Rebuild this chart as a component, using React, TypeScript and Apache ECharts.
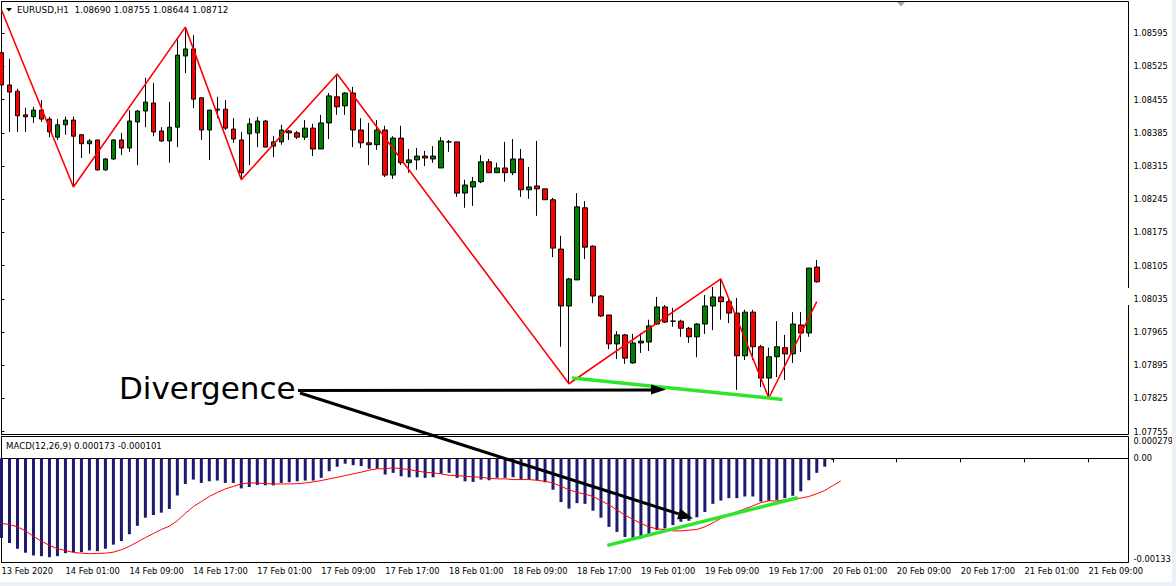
import React, { useEffect, useRef } from "react";
import * as echarts from "echarts";

// ---------- data ----------
const openP = [
  1.08554, 1.08486, 1.08473, 1.08423, 1.08419, 1.08433, 1.08414, 1.08376, 1.08402, 1.08412,
  1.08381, 1.08362, 1.0837, 1.08307, 1.0833, 1.0837, 1.08353, 1.08408, 1.08431, 1.08448,
  1.08389, 1.08368, 1.08397, 1.08547, 1.08562, 1.08459, 1.08391, 1.08435, 1.08435, 1.08393,
  1.0837, 1.08383, 1.08385, 1.0841, 1.08357, 1.08366, 1.08389, 1.08385, 1.08376, 1.08395,
  1.08351, 1.08406, 1.08461, 1.08442, 1.08469, 1.08391, 1.08364, 1.0836, 1.08391, 1.08296,
  1.08374, 1.08322, 1.08328, 1.08336, 1.0833, 1.08311, 1.08366, 1.08366, 1.08258, 1.08271,
  1.08282, 1.08324, 1.08301, 1.08311, 1.08301, 1.0833, 1.08265, 1.08273, 1.08267, 1.08244,
  1.0814, 1.0802, 1.08075, 1.08227, 1.08146, 1.08041, 1.08001, 1.0794, 1.07959, 1.079,
  1.07942, 1.07944, 1.07982, 1.08018, 1.07988, 1.07988, 1.07973, 1.07955, 1.07982, 1.0802,
  1.08039, 1.08029, 1.08005, 1.07915, 1.08007, 1.07934, 1.07868, 1.07913, 1.07932, 1.07919,
  1.0798, 1.07963, 1.08102,
];
const highP = [
  1.08585, 1.08541, 1.08478, 1.08438, 1.0844, 1.08454, 1.08419, 1.08414, 1.08419, 1.08419,
  1.08383, 1.08372, 1.0837, 1.08332, 1.08372, 1.08385, 1.08433, 1.08433, 1.08501, 1.0849,
  1.08397, 1.0845, 1.08587, 1.08608, 1.08591, 1.08459, 1.08433, 1.08461, 1.08454, 1.08416,
  1.08387, 1.08416, 1.08419, 1.08412, 1.08378, 1.08402, 1.08391, 1.08389, 1.08412, 1.08404,
  1.08423, 1.08469, 1.08509, 1.08471, 1.08482, 1.08416, 1.08406, 1.08412, 1.084, 1.08378,
  1.084, 1.08351, 1.08353, 1.08347, 1.08357, 1.08376, 1.0837, 1.08366, 1.08286, 1.08292,
  1.08338, 1.0833, 1.08322, 1.08366, 1.08372, 1.08351, 1.08313, 1.08368, 1.08267, 1.08248,
  1.08168, 1.08079, 1.08258, 1.08241, 1.08148, 1.08043, 1.08001, 1.07967, 1.07961, 1.07961,
  1.07963, 1.07991, 1.08039, 1.08022, 1.08016, 1.07991, 1.07976, 1.07984, 1.08043, 1.0806,
  1.08077, 1.08039, 1.08037, 1.08012, 1.08012, 1.07938, 1.07932, 1.07988, 1.07959, 1.08007,
  1.08007, 1.081, 1.08117,
];
const lowP = [
  1.08338, 1.08387, 1.08387, 1.08387, 1.08406, 1.08408, 1.08376, 1.0837, 1.08381, 1.08271,
  1.08332, 1.08341, 1.08305, 1.08305, 1.08328, 1.08338, 1.08345, 1.08317, 1.08397, 1.08378,
  1.08366, 1.08322, 1.08355, 1.08511, 1.08437, 1.0837, 1.08328, 1.08416, 1.08391, 1.08364,
  1.08286, 1.08317, 1.08355, 1.08355, 1.08334, 1.0836, 1.0837, 1.08372, 1.0837, 1.08336,
  1.08351, 1.08372, 1.08423, 1.08423, 1.08355, 1.08353, 1.08317, 1.08349, 1.08292, 1.08288,
  1.08317, 1.08301, 1.08307, 1.08315, 1.08322, 1.08311, 1.08345, 1.0825, 1.08227, 1.08231,
  1.08279, 1.08301, 1.08301, 1.08282, 1.08296, 1.0825, 1.08246, 1.0821, 1.08244, 1.08123,
  1.07934, 1.07856, 1.08075, 1.08119, 1.08026, 1.07997, 1.07929, 1.07908, 1.07898, 1.07898,
  1.07921, 1.07925, 1.0798, 1.07984, 1.07976, 1.07955, 1.07942, 1.07912, 1.07961, 1.07969,
  1.07991, 1.07984, 1.07843, 1.07906, 1.07906, 1.07849, 1.07826, 1.0787, 1.07864, 1.079,
  1.07923, 1.07955, 1.08069,
];
const closeP = [
  1.08486, 1.08471, 1.08421, 1.08419, 1.08433, 1.08414, 1.08387, 1.08402, 1.08412, 1.08378,
  1.08362, 1.08368, 1.08307, 1.0833, 1.0837, 1.08353, 1.0841, 1.08431, 1.0845, 1.08387,
  1.08368, 1.08397, 1.08549, 1.08562, 1.08456, 1.08391, 1.08433, 1.08433, 1.08395, 1.08372,
  1.08301, 1.08404, 1.0841, 1.08355, 1.08366, 1.08391, 1.08385, 1.08376, 1.08395, 1.08351,
  1.08406, 1.08463, 1.0844, 1.08469, 1.08391, 1.08364, 1.0836, 1.08391, 1.08296, 1.08374,
  1.08322, 1.08328, 1.08336, 1.08332, 1.08336, 1.08368, 1.08366, 1.08258, 1.08275, 1.08282,
  1.08324, 1.08301, 1.08311, 1.08301, 1.0833, 1.08265, 1.08271, 1.08267, 1.08244, 1.08142,
  1.0802, 1.08077, 1.08229, 1.08144, 1.08041, 1.07999, 1.0794, 1.07959, 1.0791, 1.07942,
  1.07946, 1.07978, 1.08018, 1.07986, 1.07988, 1.07973, 1.07955, 1.07982, 1.0802, 1.08039,
  1.08029, 1.08005, 1.07915, 1.08007, 1.07934, 1.07868, 1.07913, 1.07934, 1.07919, 1.07982,
  1.07963, 1.081, 1.08071,
];

const zigzagIdx = [0, 9, 23, 30, 42, 71, 90, 96, 102];
const zigzagPrice = [1.08644, 1.08271, 1.08608, 1.08286, 1.08509, 1.07856, 1.08077, 1.07826, 1.08029];

const macdHist = [
  -0.001017, -0.001081, -0.001154, -0.001205, -0.00124, -0.001249, -0.001262, -0.001249, -0.001211, -0.001198,
  -0.001198, -0.001176, -0.001185, -0.001154, -0.001102, -0.001056, -0.000969, -0.000862, -0.000758, -0.000724,
  -0.000694, -0.000646, -0.000474, -0.000327, -0.000271, -0.000314, -0.000293, -0.000284, -0.000314, -0.000314,
  -0.000384, -0.000366, -0.00034, -0.000345, -0.000345, -0.000314, -0.000306, -0.000293, -0.000284, -0.000284,
  -0.000249, -0.000164, -0.000107, -0.000068, -0.000087, -0.000099, -0.000133, -0.000133, -0.000207, -0.000185,
  -0.000229, -0.000242, -0.000242, -0.000249, -0.000242, -0.000198, -0.000185, -0.000249, -0.000293, -0.000301,
  -0.000271, -0.00028, -0.000249, -0.000249, -0.000242, -0.000271, -0.000271, -0.00028, -0.000306, -0.000401,
  -0.000559, -0.000642, -0.000572, -0.000581, -0.000668, -0.000758, -0.000875, -0.000939, -0.001004, -0.001017,
  -0.001025, -0.000982, -0.000917, -0.000895, -0.000853, -0.00081, -0.000797, -0.000753, -0.000685, -0.000581,
  -0.000539, -0.000508, -0.000508, -0.000487, -0.000487, -0.000552, -0.000543, -0.00053, -0.000508, -0.000478,
  -0.000422, -0.00028, -0.000185, -0.000107, -0.000022,
];
const macdSignal = [
  -0.000831, -0.000844, -0.000875, -0.000926, -0.000995, -0.001059, -0.001111, -0.001154, -0.001176, -0.001202,
  -0.001211, -0.001218, -0.001214, -0.001211, -0.001198, -0.001167, -0.001124, -0.001068, -0.001012, -0.00096,
  -0.000908, -0.000866, -0.000797, -0.000702, -0.000616, -0.000552, -0.000487, -0.000435, -0.000391, -0.000358,
  -0.000327, -0.000314, -0.000314, -0.000323, -0.000327, -0.000327, -0.000327, -0.000323, -0.000314, -0.000301,
  -0.000284, -0.000262, -0.000242, -0.00022, -0.000198, -0.000177, -0.000151, -0.000133, -0.000133, -0.00012,
  -0.000133, -0.000142, -0.000164, -0.000177, -0.000185, -0.000198, -0.000216, -0.00022, -0.000229, -0.000236,
  -0.000242, -0.000255, -0.000262, -0.000262, -0.000271, -0.000271, -0.000271, -0.00028, -0.000293, -0.000314,
  -0.000358, -0.000401, -0.000435, -0.000456, -0.000487, -0.000539, -0.000594, -0.000659, -0.000724, -0.000779,
  -0.000831, -0.000875, -0.000901, -0.000908, -0.000926, -0.000926, -0.000917, -0.000908, -0.000875, -0.000823,
  -0.000766, -0.000724, -0.000681, -0.000646, -0.000607, -0.000565, -0.000543, -0.000543, -0.00053, -0.000517,
  -0.000508, -0.000487, -0.000452, -0.00041, -0.000349, -0.00029,
];

// green trend lines (bar position, value)
const trendPriceIdx = [71.4, 97.7];
const trendPriceVal = [1.07868, 1.07823];
const trendMacdIdx = [75.8, 99.6];
const trendMacdVal = [-0.001111, -0.000504];

const priceTicks = [
  1.08595, 1.08525, 1.08455, 1.08385, 1.08315, 1.08245, 1.08175, 1.08105, 1.08035, 1.07965, 1.07895,
  1.07825, 1.07755,
];
const macdTickValues = [0.000279, 0, -0.00133];
const macdTickText = ["0.000279", "0.00", "-0.00133"];
const timeLabels = [
  "13 Feb 2020", "14 Feb 01:00", "14 Feb 09:00", "14 Feb 17:00", "17 Feb 01:00", "17 Feb 09:00",
  "17 Feb 17:00", "18 Feb 01:00", "18 Feb 09:00", "18 Feb 17:00", "19 Feb 01:00", "19 Feb 09:00",
  "19 Feb 17:00", "20 Feb 01:00", "20 Feb 09:00", "20 Feb 17:00", "21 Feb 01:00", "21 Feb 09:00",
];
const SLOTS = 142;

const FONT = "DejaVu Sans";

export default function App() {
  const ref = useRef<HTMLDivElement>(null);

  useEffect(() => {
    const el = ref.current!;
    const chart = echarts.init(el, undefined, { renderer: "svg" });

    const categories = Array.from({ length: SLOTS }, (_, i) => String(i));
    const candles = openP.map((o, i) => [o, closeP[i], lowP[i], highP[i]]);
    const zig = zigzagIdx.map((x, i) => [x, zigzagPrice[i]]);
    const trendP = trendPriceIdx.map((x, i) => [x, trendPriceVal[i]]);
    const trendM = trendMacdIdx.map((x, i) => [x, trendMacdVal[i]]);

    const axisTxt = { color: "#000", fontSize: 8.3, fontFamily: FONT };
    const black = { color: "#000", width: 1 };
    const GREEN = "#2ee52e";

    // diagonal arrow geometry
    const sx = 300, sy = 393, tx = 693, ty = 518.5;
    const len = Math.hypot(tx - sx, ty - sy);
    const ux = (tx - sx) / len, uy = (ty - sy) / len;
    const bx = tx - 15 * ux, by = ty - 15 * uy;
    const nx = -uy, ny = ux;

    const option: any = {
      animation: false,
      backgroundColor: "#ffffff",
      textStyle: { fontFamily: FONT },
      grid: [
        { left: 1.5, top: 1.5, width: 1127, height: 433, show: true, borderColor: "#000", borderWidth: 1, containLabel: false, outerBoundsMode: "none" },
        { left: 1.5, top: 436.5, width: 1127, height: 126, show: true, borderColor: "#000", borderWidth: 1, containLabel: false, outerBoundsMode: "none" },
      ],
      xAxis: [
        { type: "category", gridIndex: 0, data: categories, boundaryGap: false, show: false },
        {
          type: "category", gridIndex: 1, data: categories, boundaryGap: false, position: "bottom",
          axisLine: { show: true, lineStyle: black },
          axisTick: { show: true, interval: 7, length: 4, lineStyle: black },
          axisLabel: {
            ...axisTxt, interval: 7, align: "left", margin: 4,
            formatter: (_v: string, idx: number) => (idx % 8 === 0 ? timeLabels[idx / 8] ?? "" : ""),
          },
          splitLine: { show: false },
        },
        { type: "value", gridIndex: 0, min: 0, max: SLOTS - 1, show: false },
        { type: "value", gridIndex: 1, min: 0, max: SLOTS - 1, show: false },
      ],
      yAxis: [
        {
          type: "value", gridIndex: 0, position: "right", min: 1.07749, max: 1.08662,
          axisLine: { show: true, lineStyle: black },
          axisTick: { show: true, length: 3, lineStyle: black, customValues: priceTicks },
          axisLabel: { ...axisTxt, margin: 5, customValues: priceTicks, formatter: (v: number) => v.toFixed(5) },
          splitLine: { show: false },
        },
        {
          type: "value", gridIndex: 1, position: "right", min: -0.00133, max: 0.000279,
          axisLine: { show: true, lineStyle: black },
          axisTick: { show: true, length: 3, lineStyle: black, customValues: [0] },
          axisLabel: {
            ...axisTxt, margin: 5, customValues: macdTickValues,
            verticalAlignMaxLabel: "bottom", verticalAlignMinLabel: "top",
            formatter: (v: number) => {
              const k = macdTickValues.findIndex((t) => Math.abs(t - v) < 1e-9);
              return k >= 0 ? macdTickText[k] : "";
            },
          },
          splitLine: { show: false },
        },
      ],
      series: [
        {
          type: "candlestick", xAxisIndex: 0, yAxisIndex: 0, data: candles, barWidth: 5, clip: true,
          itemStyle: { color: "#008000", color0: "#ff0000", borderColor: "#000", borderColor0: "#000", borderWidth: 1 },
        },
        {
          type: "line", xAxisIndex: 0, yAxisIndex: 0, data: zig, symbol: "none", clip: true,
          lineStyle: { color: "#ff0000", width: 1.6 }, z: 3,
        },
        {
          type: "line", xAxisIndex: 2, yAxisIndex: 0, data: trendP, symbol: "none",
          lineStyle: { color: GREEN, width: 3.5 }, z: 4,
        },
        {
          type: "bar", xAxisIndex: 1, yAxisIndex: 1, data: macdHist, barWidth: 3,
          itemStyle: { color: "#1b1b70" },
        },
        {
          type: "line", xAxisIndex: 1, yAxisIndex: 1, data: macdSignal, symbol: "none",
          lineStyle: { color: "#ff0000", width: 1 }, z: 3,
        },
        {
          type: "line", xAxisIndex: 3, yAxisIndex: 1, data: trendM, symbol: "none",
          lineStyle: { color: GREEN, width: 3.5 }, z: 4,
        },
      ],
      graphic: [
        { type: "polygon", z: 100, shape: { points: [[6, 8], [12, 8], [9, 11.5]] }, style: { fill: "#000" } },
        {
          type: "text", z: 100, x: 17, y: 9.5,
          style: { text: "EURUSD,H1  1.08690 1.08755 1.08644 1.08712", font: `8.8px "${FONT}"`, fill: "#000", verticalAlign: "middle" },
        },
        {
          type: "text", z: 100, x: 6, y: 445.5,
          style: { text: "MACD(12,26,9) 0.000173 -0.000101", font: `8.6px "${FONT}"`, fill: "#000", verticalAlign: "middle" },
        },
        { type: "polygon", z: 100, shape: { points: [[897, 2], [905, 2], [901, 6.5]] }, style: { fill: "#a6a6a6" } },
        { type: "rect", z: 100, shape: { x: 1126, y: 288, width: 7, height: 17 }, style: { fill: "#fff" } },
        { type: "rect", z: 100, shape: { x: 1172, y: 0, width: 4, height: 586 }, style: { fill: "#edf1f7" } },
        { type: "rect", z: 100, shape: { x: 0, y: 582, width: 1176, height: 4 }, style: { fill: "#edf1f7" } },
        {
          type: "text", z: 100, x: 119, y: 388,
          style: { text: "Divergence", font: `31px "${FONT}"`, fill: "#000", verticalAlign: "middle" },
        },
        { type: "line", z: 100, shape: { x1: 298, y1: 390.5, x2: 653, y2: 390 }, style: { stroke: "#000", lineWidth: 3 } },
        { type: "polygon", z: 100, shape: { points: [[666, 389.5], [651, 384.5], [651, 394.5]] }, style: { fill: "#000" } },
        { type: "line", z: 100, shape: { x1: sx, y1: sy, x2: bx, y2: by }, style: { stroke: "#000", lineWidth: 3 } },
        {
          type: "polygon", z: 100,
          shape: { points: [[tx, ty], [bx + 5.5 * nx, by + 5.5 * ny], [bx - 5.5 * nx, by - 5.5 * ny]] },
          style: { fill: "#000" },
        },
      ],
    };

    chart.setOption(option);
    return () => chart.dispose();
  }, []);

  return (
    <div
      ref={ref}
      style={{ position: "absolute", left: 0, top: 0, width: 1176, height: 586, background: "#fff" }}
    />
  );
}
